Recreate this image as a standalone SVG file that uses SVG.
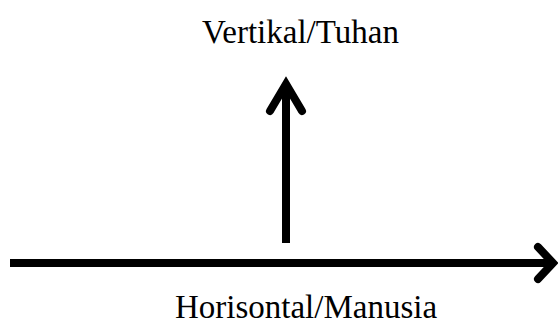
<svg xmlns="http://www.w3.org/2000/svg" width="558" height="326" viewBox="0 0 558 326">
<style>
.t{font-family:"Liberation Serif","Times New Roman",serif;font-size:33px;fill:#000;text-anchor:middle}
.ln{stroke:#000;stroke-width:8;fill:none}
.hd{stroke:#000;stroke-width:8;fill:none;stroke-linecap:round;stroke-linejoin:miter}
</style>
<rect width="558" height="326" fill="#fff"/>
<g id="connectors">
<line class="ln" x1="286" y1="243" x2="286" y2="86"/>
<polyline class="hd" points="270,111 286,84 302,111"/>
<line class="ln" x1="10" y1="263" x2="551" y2="263"/>
<polyline class="hd" points="538,247 553,263 538,279"/>
</g>
<g id="vertikal"><text class="t" x="300.5" y="43">Vertikal/Tuhan</text></g>
<g id="horisontal"><text class="t" x="306" y="318">Horisontal/Manusia</text></g>
</svg>
